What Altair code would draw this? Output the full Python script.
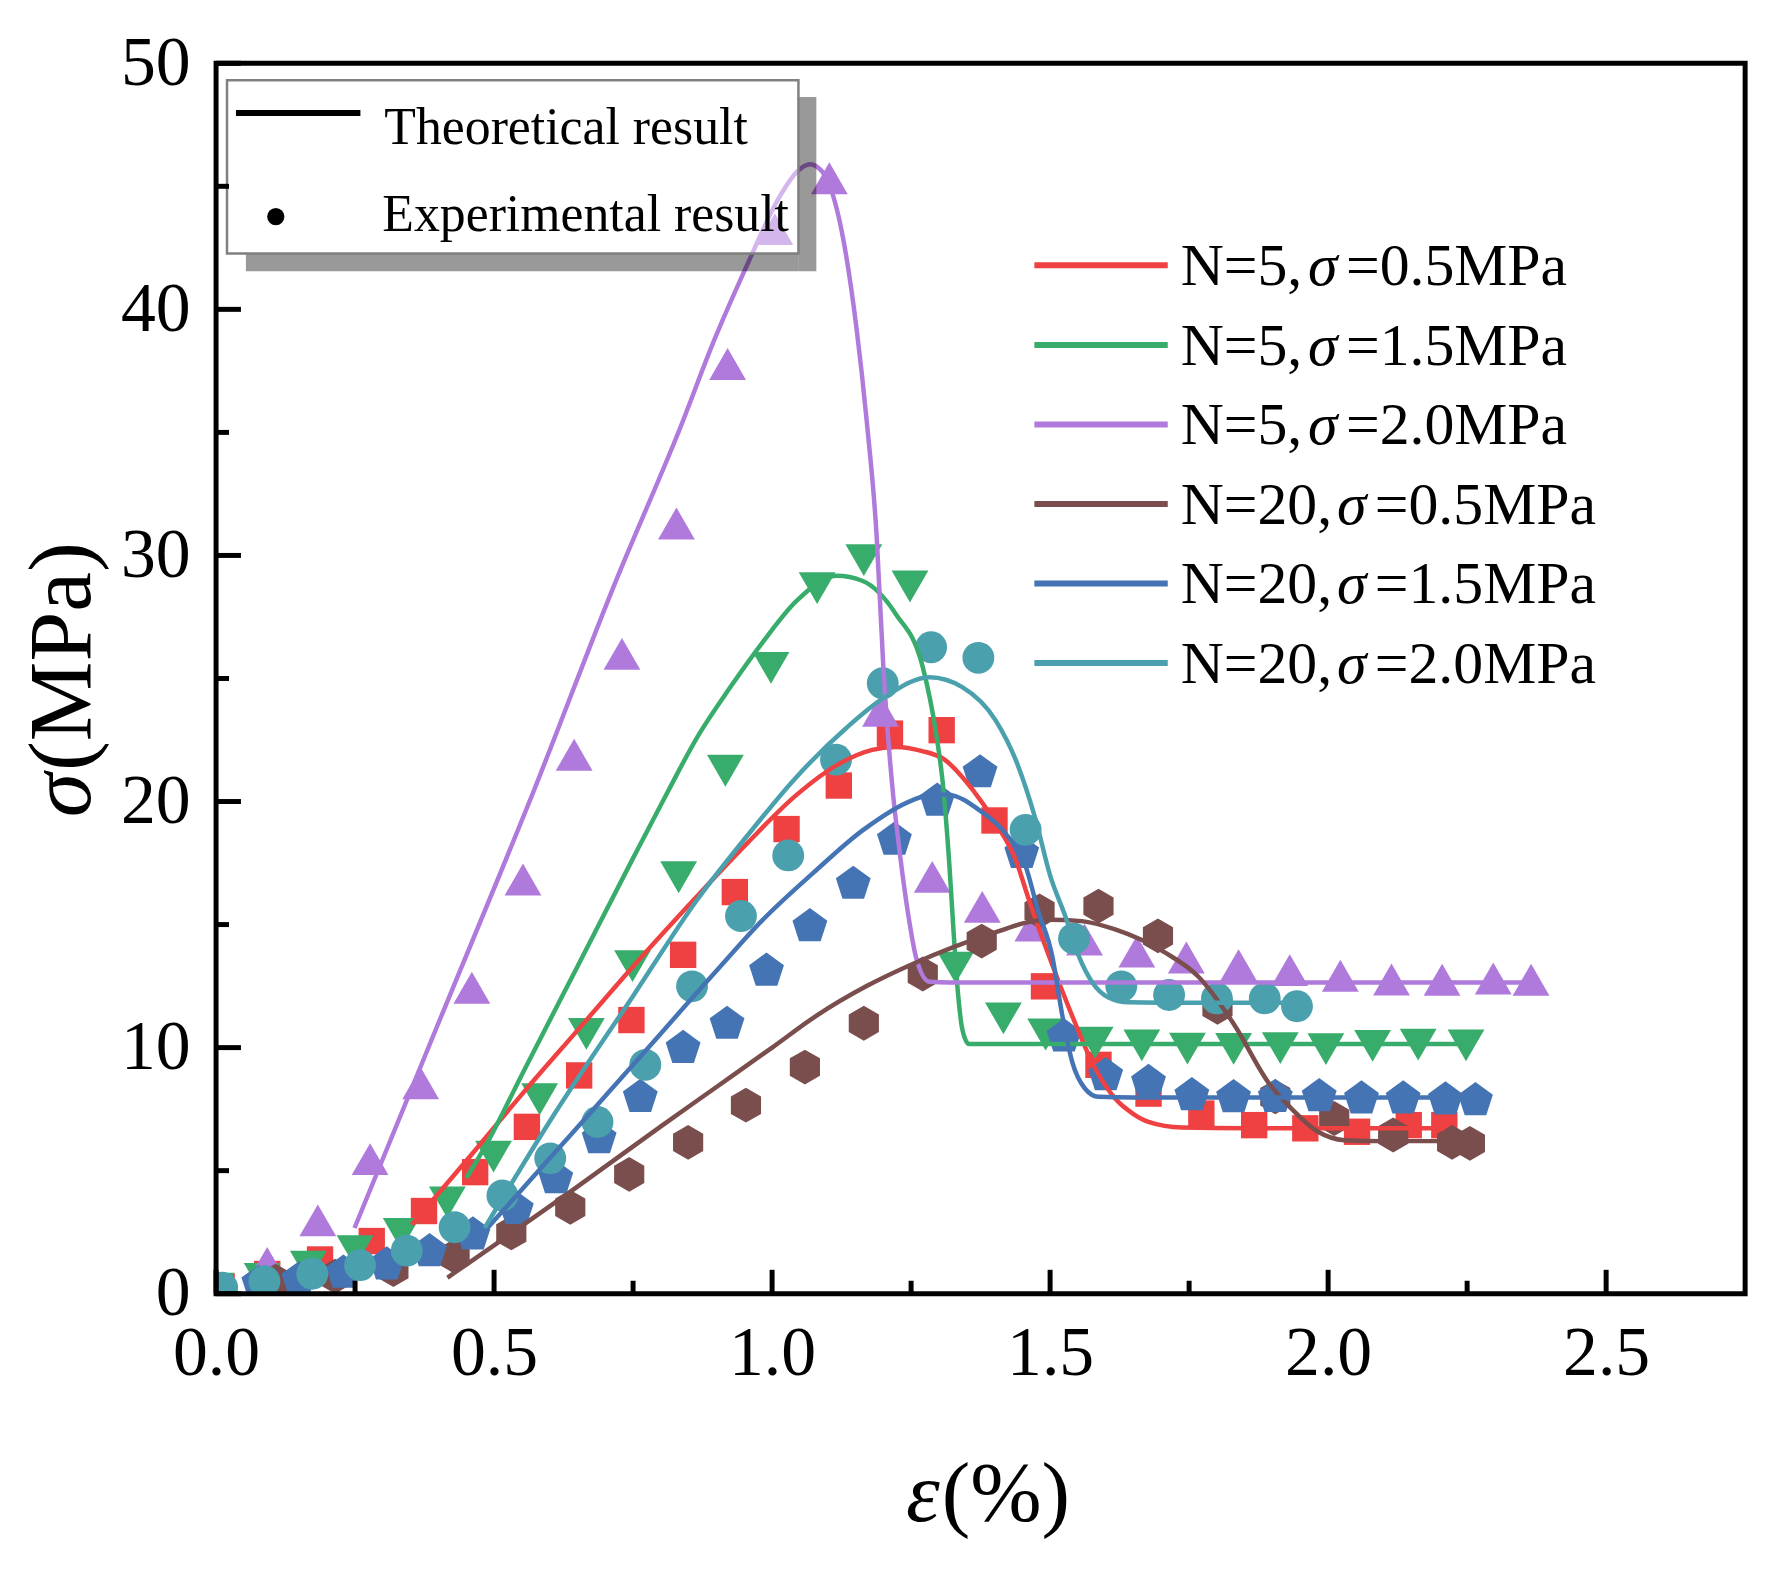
import altair as alt
import pandas as pd

# ---------------- data ----------------
# Experimental results: strain eps (%) and stress sig (MPa)
eps_n5_s05 = [0.01, 0.092, 0.187, 0.280, 0.374, 0.466, 0.559, 0.653, 0.747, 0.840, 0.933, 1.026, 1.120,
              1.212, 1.305, 1.400, 1.489, 1.587, 1.677, 1.772, 1.867, 1.959, 2.052, 2.145, 2.209]
sig_n5_s05 = [0.3, 0.8, 1.39, 2.14, 3.36, 4.94, 6.78, 8.87, 11.12, 13.77, 16.32, 18.88, 20.65,
              22.76, 22.9, 19.23, 12.49, 9.30, 8.13, 7.32, 6.85, 6.72, 6.58, 6.85, 6.85]

eps_n5_s15 = [0.0, 0.083, 0.166, 0.250, 0.333, 0.416, 0.499, 0.582, 0.666, 0.749, 0.832, 0.916, 0.998, 1.081,
              1.165, 1.248, 1.330, 1.416, 1.492, 1.581, 1.665, 1.747, 1.830, 1.914, 1.996, 2.080, 2.162, 2.248]
sig_n5_s15 = [0.2, 0.6, 1.1, 1.73, 2.43, 3.71, 5.57, 7.90, 10.56, 13.31, 16.92, 21.25, 25.43, 28.67,
              29.81, 28.74, 13.25, 11.19, 10.53, 10.2, 10.09, 9.96, 9.95, 9.98, 9.94, 10.07, 10.12, 10.09]

eps_n5_s20 = [0.0, 0.092, 0.183, 0.277, 0.368, 0.460, 0.552, 0.644, 0.730, 0.828, 0.920, 1.005, 1.103, 1.195,
              1.288, 1.378, 1.469, 1.562, 1.656, 1.745, 1.839, 1.931, 2.022, 2.114, 2.205, 2.297, 2.365]
sig_n5_s20 = [0.3, 1.25, 2.98, 5.47, 8.55, 12.43, 16.83, 21.9, 26.0, 31.3, 37.78, 43.26, 45.33, 23.69,
              16.94, 15.72, 14.96, 14.39, 13.9, 13.66, 13.35, 13.15, 12.92, 12.77, 12.76, 12.81, 12.76]

eps_n20_s05 = [0.107, 0.214, 0.319, 0.429, 0.531, 0.637, 0.743, 0.849, 0.953, 1.059, 1.165, 1.271, 1.377,
               1.481, 1.587, 1.694, 1.801, 1.905, 2.011, 2.117, 2.223, 2.255]
sig_n20_s05 = [0.51, 0.71, 0.98, 1.52, 2.47, 3.51, 4.85, 6.15, 7.66, 9.21, 10.99, 12.99, 14.33,
               15.55, 15.75, 14.54, 11.64, 8.0, 7.12, 6.45, 6.15, 6.11]

eps_n20_s15 = [0.0, 0.077, 0.149, 0.229, 0.307, 0.384, 0.462, 0.540, 0.611, 0.689, 0.763, 0.840, 0.919, 0.990,
               1.068, 1.146, 1.220, 1.297, 1.374, 1.449, 1.525, 1.600, 1.677, 1.755, 1.830, 1.905, 1.984,
               2.060, 2.135, 2.211, 2.265]
sig_n20_s15 = [0.1, 0.5, 0.65, 0.92, 1.25, 1.79, 2.47, 3.51, 4.76, 6.38, 8.06, 10.05, 11.03, 13.19,
               15.0, 16.72, 18.51, 20.1, 21.25, 17.97, 10.52, 8.94, 8.67, 8.13, 8.05, 8.06, 8.09,
               8.0, 8.0, 7.96, 7.93]

eps_n20_s20 = [0.011, 0.087, 0.173, 0.259, 0.343, 0.429, 0.515, 0.601, 0.686, 0.772, 0.856, 0.944, 1.029,
               1.115, 1.199, 1.286, 1.371, 1.456, 1.543, 1.628, 1.714, 1.800, 1.886, 1.944]
sig_n20_s20 = [0.24, 0.51, 0.81, 1.16, 1.75, 2.70, 3.99, 5.50, 6.98, 9.30, 12.49, 15.35, 17.81,
               21.7, 24.81, 26.27, 25.84, 18.85, 14.43, 12.49, 12.14, 12.0, 12.0, 11.68]

# Theoretical curves
th_eps_n5_s05 = [0.352, 0.45, 0.55, 0.65, 0.75, 0.865, 0.955, 1.044, 1.122, 1.18, 1.223, 1.27, 1.307, 1.361,
                 1.402, 1.438, 1.462, 1.50, 1.545, 1.58, 1.617, 1.65, 1.677, 1.737, 1.85, 2.0, 2.21]
th_sig_n5_s05 = [2.8, 5.4, 8.1, 10.7, 13.3, 16.15, 18.3, 20.27, 21.55, 22.1, 22.22, 22.05, 21.75, 20.47,
                 19.12, 17.64, 16.0, 13.6, 11.0, 9.2, 7.93, 7.3, 6.98, 6.75, 6.72, 6.72, 6.72]

th_eps_n5_s15 = [0.45, 0.489, 0.55, 0.65, 0.75, 0.814, 0.865, 0.925, 0.984, 1.044, 1.116, 1.163, 1.223, 1.271,
                 1.295, 1.307, 1.319, 1.327, 1.334, 1.342, 1.354, 1.40, 2.25]
th_sig_n5_s15 = [4.7, 6.18, 8.9, 13.3, 17.7, 20.47, 22.6, 24.65, 26.5, 28.15, 29.17, 28.96, 27.6, 25.46,
                 22.76, 20.74, 17.37, 14.5, 12.3, 10.76, 10.15, 10.15, 10.15]

th_eps_n5_s20 = [0.249, 0.40, 0.572, 0.719, 0.835, 0.895, 0.955, 1.014, 1.045, 1.068, 1.09, 1.104, 1.128, 1.152,
                 1.17, 1.188, 1.2, 1.218, 1.226, 1.247, 1.259, 1.283, 1.32, 2.35]
th_sig_n5_s20 = [2.67, 11.0, 20.47, 28.96, 35.2, 38.7, 41.8, 44.6, 45.6, 45.9, 45.6, 45.0, 42.85, 39.2,
                 35.5, 30.8, 25.5, 20.2, 18.6, 15.1, 13.66, 12.68, 12.65, 12.65]

th_eps_n20_s05 = [0.416, 0.65, 0.80, 0.90, 1.0, 1.08, 1.17, 1.259, 1.378, 1.497, 1.557, 1.617, 1.707, 1.766,
                  1.832, 1.892, 1.934, 1.982, 2.029, 2.1, 2.25]
th_sig_n20_s05 = [0.65, 4.35, 6.8, 8.4, 10.0, 11.3, 12.5, 13.46, 14.5, 15.2, 15.14, 14.8, 13.86, 12.9,
                  10.9, 8.6, 7.52, 6.58, 6.24, 6.2, 6.2]

th_eps_n20_s15 = [0.483, 0.60, 0.75, 0.90, 0.984, 1.074, 1.164, 1.253, 1.29, 1.319, 1.372, 1.42, 1.456, 1.478,
                  1.504, 1.522, 1.540, 1.563, 1.587, 1.65, 2.265]
th_sig_n20_s15 = [2.54, 5.5, 9.3, 13.12, 15.21, 17.1, 18.85, 20.06, 20.3, 20.27, 19.66, 18.7, 17.37, 15.6,
                  13.7, 11.3, 9.4, 8.33, 8.0, 7.97, 7.97]

th_eps_n20_s20 = [0.483, 0.60, 0.75, 0.865, 0.955, 1.044, 1.134, 1.2, 1.283, 1.342, 1.402, 1.438, 1.474, 1.50,
                  1.528, 1.552, 1.576, 1.605, 1.641, 1.70, 1.95]
th_sig_n20_s20 = [2.67, 7.0, 12.1, 16.0, 18.6, 21.0, 23.0, 24.2, 25.05, 24.65, 23.3, 21.7, 19.26, 17.0,
                  15.3, 13.7, 12.65, 12.04, 11.84, 11.82, 11.82]

# Axis ticks
x_major = [0.0, 0.5, 1.0, 1.5, 2.0, 2.5]
x_minor = [0.25, 0.75, 1.25, 1.75, 2.25]
y_major = [0, 10, 20, 30, 40, 50]
y_minor = [5, 15, 25, 35, 45]

# Legend labels (split so that sigma can be italic)
label_n = ["N=5,", "N=5,", "N=5,", "N=20,", "N=20,", "N=20,"]
label_rest = ["=0.5MPa", "=1.5MPa", "=2.0MPa", "=0.5MPa", "=1.5MPa", "=2.0MPa"]

# ---------------- styling ----------------
FONT = "Liberation Serif"
W, H = 1536, 1236
PENTAGON = "M0,-0.905L0.951,-0.214L0.588,0.905L-0.588,0.905L-0.951,-0.214Z"
HEXAGON = "M0,-1L0.866,-0.5L0.866,0.5L0,1L-0.866,0.5L-0.866,-0.5Z"

series = [
    (eps_n5_s05, sig_n5_s05, th_eps_n5_s05, th_sig_n5_s05, "#EF4141", "square", 702),
    (eps_n5_s15, sig_n5_s15, th_eps_n5_s15, th_sig_n5_s15, "#38AD6B", "triangle-down", 1369),
    (eps_n5_s20, sig_n5_s20, th_eps_n5_s20, th_sig_n5_s20, "#B07ADC", "triangle-up", 1369),
    (eps_n20_s05, sig_n20_s05, th_eps_n20_s05, th_sig_n20_s05, "#7B4E4E", HEXAGON, 1225),
    (eps_n20_s15, sig_n20_s15, th_eps_n20_s15, th_sig_n20_s15, "#4574B4", PENTAGON, 1354),
    (eps_n20_s20, sig_n20_s20, th_eps_n20_s20, th_sig_n20_s20, "#4BA0AE", "circle", 1024),
]

xs = alt.Scale(domain=[0, 2.75], nice=False, zero=False)
ys = alt.Scale(domain=[0, 50], nice=False, zero=False)
ax_x = alt.Axis(values=x_major, format=".1f", title=None, labelPadding=26,
                labelOverlap=False, labelFlush=False)
ax_y = alt.Axis(values=y_major, format="d", title=None, labelPadding=26,
                labelOverlap=False, labelFlush=False)

one = pd.DataFrame({"k": [0]})


def txt(s, x, y, size, italic=False, align="left", angle=None):
    kw = dict(text=s, font=FONT, fontSize=size, align=align, baseline="alphabetic", color="black")
    if italic:
        kw["fontStyle"] = "italic"
    if angle is not None:
        kw["angle"] = angle
    return alt.Chart(one).mark_text(**kw).encode(x=alt.value(x), y=alt.value(y))


def rect(x, x2, y, y2, **kw):
    return alt.Chart(one).mark_rect(**kw).encode(
        x=alt.value(x), x2=alt.value(x2), y=alt.value(y), y2=alt.value(y2))


layers = []
# experimental points
for e, s, te, ts, c, shp, sz in series:
    df = pd.DataFrame({"e": e, "s": s})
    layers.append(
        alt.Chart(df).mark_point(shape=shp, filled=True, size=sz, color=c, opacity=1, clip=True)
        .encode(x=alt.X("e:Q", scale=xs, axis=ax_x), y=alt.Y("s:Q", scale=ys, axis=ax_y))
    )
# theoretical lines
for e, s, te, ts, c, shp, sz in series:
    df = pd.DataFrame({"e": te, "s": ts})
    layers.append(
        alt.Chart(df).mark_line(color=c, strokeWidth=4.5, interpolate="monotone", clip=True)
        .encode(x=alt.X("e:Q", scale=xs, axis=ax_x), y=alt.Y("s:Q", scale=ys, axis=ax_y))
    )

# top-left legend box with shadow
layers.append(rect(585, 603, 34, 209, color="#999999", blend="multiply"))
layers.append(rect(30, 585, 191, 209, color="#999999", blend="multiply"))
layers.append(rect(11, 585, 17, 191, fill="white", fillOpacity=0.45, stroke="#808080", strokeWidth=2.5))
layers.append(alt.Chart(one).mark_rule(color="black", strokeWidth=6)
              .encode(x=alt.value(20), x2=alt.value(145), y=alt.value(50)))
layers.append(txt("Theoretical result", 169, 81, 52))
layers.append(alt.Chart(one).mark_point(shape="circle", filled=True, size=300, color="black", opacity=1)
              .encode(x=alt.value(60), y=alt.value(154)))
layers.append(txt("Experimental result", 167, 168, 52))

# right legend
for i, (e, s, te, ts, c, shp, sz) in enumerate(series):
    yy = 203 + i * 79.9
    layers.append(alt.Chart(one).mark_rule(color=c, strokeWidth=6)
                  .encode(x=alt.value(822), x2=alt.value(956), y=alt.value(yy)))
    extra = 29 if len(label_n[i]) > 4 else 0
    layers.append(txt(label_n[i], 969, yy + 20, 60))
    layers.append(txt("σ", 969 + 128 + extra, yy + 20, 60, italic=True))
    layers.append(txt(label_rest[i], 969 + 166 + extra, yy + 20, 60))

# inward ticks
layers.append(alt.Chart(pd.DataFrame({"t": x_major})).mark_rule(color="black", strokeWidth=5)
              .encode(x=alt.X("t:Q", scale=xs, axis=ax_x), y=alt.value(H), y2=alt.value(H - 24)))
layers.append(alt.Chart(pd.DataFrame({"t": x_minor})).mark_rule(color="black", strokeWidth=5)
              .encode(x=alt.X("t:Q", scale=xs, axis=ax_x), y=alt.value(H), y2=alt.value(H - 13)))
layers.append(alt.Chart(pd.DataFrame({"t": y_major})).mark_rule(color="black", strokeWidth=5)
              .encode(y=alt.Y("t:Q", scale=ys, axis=ax_y), x=alt.value(0), x2=alt.value(25)))
layers.append(alt.Chart(pd.DataFrame({"t": y_minor})).mark_rule(color="black", strokeWidth=5)
              .encode(y=alt.Y("t:Q", scale=ys, axis=ax_y), x=alt.value(0), x2=alt.value(13)))

# frame
layers.append(rect(0, W, 0, H, fillOpacity=0, stroke="black", strokeWidth=5))

# axis titles
layers.append(txt("ε", 727, 1464, 86, italic=True, align="right"))
layers.append(txt("(%)", 729, 1464, 86))
layers.append(txt("(MPa)", -127, 711, 90, angle=270))
layers.append(txt("σ", -127, 713, 90, italic=True, align="right", angle=270))

chart = (
    alt.layer(*layers)
    .properties(width=W, height=H,
                autosize=alt.AutoSizeParams(type="none"),
                padding={"left": 209, "top": 52, "right": 31, "bottom": 266})
    .configure_view(stroke=None)
    .configure_axis(labelFont=FONT, labelFontSize=70, labelColor="black", grid=False,
                    domain=False, ticks=False, tickSize=0)
)

chart.save("out.html", embed_options={"renderer": "svg", "actions": False})
